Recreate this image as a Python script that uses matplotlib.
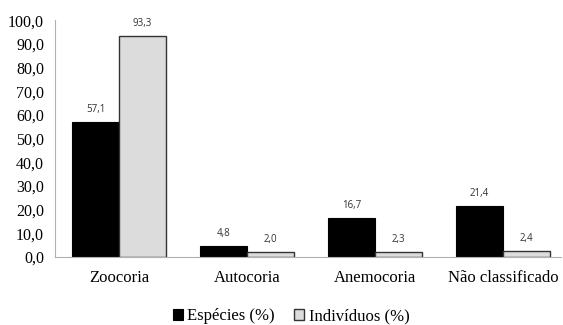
import matplotlib.pyplot as plt
import numpy as np

categorias = ['Zoocoria', 'Autocoria', 'Anemocoria', 'Não classificado']
especies = [57.1, 4.8, 16.7, 21.4]
individuos = [93.3, 2.0, 2.3, 2.4]

fig = plt.figure(figsize=(5.63, 3.25), dpi=100)
ax = fig.add_axes([0.098, 0.209, 0.898, 0.729])

x = np.arange(len(categorias))
w = 0.367
b1 = ax.bar(x - w / 2, especies, w, color='black', edgecolor='black', linewidth=0.8,
            label='Espécies (%)')
b2 = ax.bar(x + w / 2, individuos, w, color='#dcdcdc', edgecolor='#333333', linewidth=1.0,
            label='Indivíduos (%)')

# rótulos de valor acima das barras
for bars, vals in ((b1, especies), (b2, individuos)):
    for r, v in zip(bars, vals):
        ax.annotate(f'{v:.1f}'.replace('.', ','), (r.get_x() + r.get_width() / 2, v),
                    xytext=(0, 5), textcoords='offset points', ha='center', va='bottom',
                    fontsize=7, family='Open Sans', color='#333333')

ax.set_ylim(0, 100)
ax.set_xlim(-0.5, 3.45)
ticks = np.arange(0, 101, 10)
ax.set_yticks(ticks)
ax.set_yticklabels([f'{t:.1f}'.replace('.', ',') for t in ticks],
                   family='Liberation Serif', fontsize=11.5)
ax.set_xticks(x)
ax.set_xticklabels(categorias, family='Liberation Serif', fontsize=12)
ax.tick_params(length=0)
ax.tick_params(axis='y', pad=8)
ax.tick_params(axis='x', pad=9)

for s in ('top', 'right'):
    ax.spines[s].set_visible(False)
ax.spines['left'].set_color('#b0b0b0')
ax.spines['bottom'].set_color('#b0b0b0')

fig.legend(handles=[b1, b2], loc='center', bbox_to_anchor=(291 / 563, 0.027), ncol=2,
           frameon=False, prop={'family': 'Liberation Serif', 'size': 12},
           handlelength=0.6, handleheight=0.6, handletextpad=0.25, columnspacing=1.2)

fig.savefig('out.png', dpi=100)
